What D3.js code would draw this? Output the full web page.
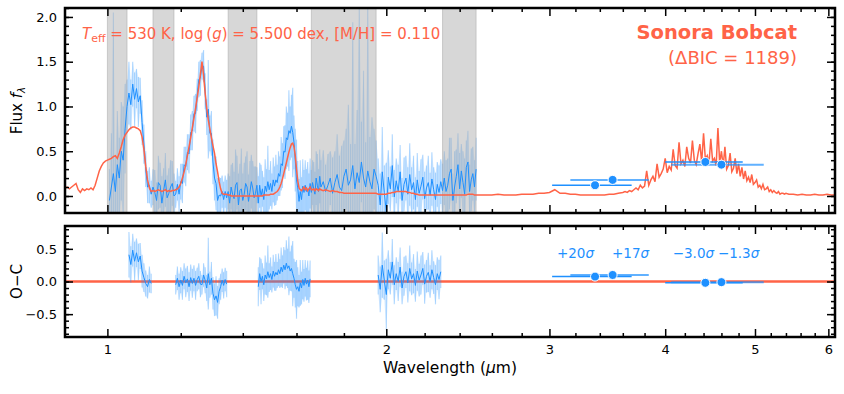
<!DOCTYPE html>
<html>
<head>
<meta charset="utf-8">
<script src="https://cdn.jsdelivr.net/npm/d3@7"></script>
<style>
  body { margin: 0; background: #fff; }
  svg { display: block; font-family: "DejaVu Sans", sans-serif; }
</style>
</head>
<body>
<div id="chart"></div>
<script>
// ---- fit parameters ----
const modelName = "Sonora Bobcat";
const deltaBIC = 1189;
const teff = 530, logg = "5.500", metal = "0.110";

// ---- masked (telluric) windows, microns ----
const bandStart = [1.00, 1.12, 1.35, 1.66, 2.30];
const bandEnd   = [1.05, 1.18, 1.45, 1.95, 2.50];

// ---- observed spectrum ----
const obsWave = [
  1.005,1.010,1.015,1.020,1.025,1.030,1.035,1.040,1.045,1.050,
  1.055,1.060,1.065,1.070,1.075,1.080,1.085,1.090,1.095,1.100,
  1.105,1.110,1.115,1.120,1.125,1.130,1.135,1.140,1.145,1.150,
  1.155,1.160,1.165,1.170,1.175,1.180,1.185,1.190,1.195,1.200,
  1.205,1.210,1.215,1.220,1.225,1.230,1.235,1.240,1.245,1.250,
  1.255,1.260,1.265,1.270,1.275,1.280,1.285,1.290,1.295,1.300,
  1.305,1.310,1.315,1.320,1.325,1.330,1.335,1.340,1.345,1.350,
  1.355,1.360,1.365,1.370,1.375,1.380,1.385,1.390,1.395,1.400,
  1.405,1.410,1.415,1.420,1.425,1.430,1.435,1.440,1.445,1.450,
  1.455,1.460,1.465,1.470,1.475,1.480,1.485,1.490,1.495,1.500,
  1.505,1.510,1.515,1.520,1.525,1.530,1.535,1.540,1.545,1.550,
  1.555,1.560,1.565,1.570,1.575,1.580,1.585,1.590,1.595,1.600,
  1.605,1.610,1.615,1.620,1.625,1.630,1.635,1.640,1.645,1.650,
  1.655,1.660,1.665,1.670,1.675,1.680,1.685,1.690,1.695,1.700,
  1.71,1.72,1.73,1.74,1.75,1.76,1.77,1.78,1.79,1.80,
  1.81,1.82,1.83,1.84,1.85,1.86,1.87,1.88,1.89,1.90,
  1.91,1.92,1.93,1.94,1.95,1.96,1.97,1.98,1.99,2.00,
  2.01,2.02,2.03,2.04,2.05,2.06,2.07,2.08,2.09,2.10,
  2.11,2.12,2.13,2.14,2.15,2.16,2.17,2.18,2.19,2.20,
  2.21,2.22,2.23,2.24,2.25,2.26,2.27,2.28,2.29,2.30,
  2.31,2.32,2.33,2.34,2.35,2.36,2.37,2.38,2.39,2.40,
  2.41,2.42,2.43,2.44,2.45,2.46,2.47,2.48,2.49,2.50
];
const obsFlux = [
  -0.05,0.10,0.25,0.05,0.35,0.20,0.50,0.40,0.75,1.00,
  1.15,1.02,1.25,1.08,1.20,1.05,1.12,0.82,0.58,0.30,
  0.10,0.12,0.02,0.10,0.04,-0.05,0.15,0.12,-0.08,0.06,
  0.18,-0.02,0.03,0.10,0.14,0.00,0.02,0.13,0.02,0.16,
  0.14,0.35,0.33,0.49,0.47,0.71,0.73,0.92,0.92,1.13,
  1.30,1.32,1.45,1.45,1.17,0.88,0.97,0.70,0.70,0.38,
  0.20,0.14,-0.05,0.01,0.00,0.05,-0.04,0.05,-0.02,0.05,
  -0.08,0.10,0.02,-0.03,0.12,0.15,-0.10,0.06,0.08,-0.05,
  0.02,0.14,0.10,-0.06,0.04,0.16,0.09,-0.02,0.03,0.12,
  -0.08,0.12,0.00,0.08,-0.04,0.11,0.05,0.16,0.07,0.14,
  0.05,0.18,0.11,0.18,0.15,0.25,0.22,0.36,0.34,0.50,
  0.49,0.65,0.63,0.73,0.70,0.78,0.71,0.60,0.40,0.18,
  0.09,-0.06,0.05,-0.04,0.11,0.04,0.12,0.05,0.08,0.00,
  0.14,0.04,0.15,0.08,0.02,0.20,0.12,0.05,0.22,0.10,
  0.16,0.05,0.12,0.20,0.03,0.15,0.24,0.10,0.06,0.22,
  0.30,0.12,0.18,0.34,0.08,0.26,0.15,0.38,0.20,0.10,
  0.28,0.16,0.08,0.30,0.22,0.12,-0.10,0.27,0.04,-0.18,
  0.21,0.08,0.34,-0.01,0.17,0.05,0.27,-0.05,0.13,0.20,
  0.02,0.24,0.07,0.15,-0.04,0.18,0.03,0.11,0.21,-0.03,
  0.09,0.15,0.01,0.19,0.07,-0.04,0.13,0.04,0.16,0.06,
  0.20,0.05,0.12,0.25,0.30,-0.05,0.10,0.22,0.35,0.08,
  0.28,0.15,0.02,0.32,0.38,0.05,0.18,0.25,0.10,0.30
];
const obsErr = [
  0.35,0.60,1.80,0.40,0.60,0.45,0.55,0.60,0.50,0.30,
  0.35,0.28,0.25,0.30,0.22,0.28,0.20,0.25,0.22,0.20,
  0.18,0.20,0.15,0.20,0.25,0.20,0.30,0.25,0.30,0.25,
  0.30,0.25,0.28,0.30,0.25,0.25,0.15,0.18,0.20,0.20,
  0.22,0.20,0.22,0.20,0.22,0.20,0.22,0.20,0.22,0.18,
  0.20,0.20,0.15,0.18,0.20,0.20,0.55,0.20,0.25,0.25,
  0.25,0.30,0.25,0.20,0.20,0.18,0.20,0.18,0.20,0.20,
  0.30,0.25,0.35,0.30,0.40,0.30,0.35,0.30,0.45,0.30,
  0.35,0.30,0.40,0.30,0.35,0.30,0.30,0.35,0.30,0.20,
  0.30,0.25,0.35,0.20,0.25,0.30,0.25,0.40,0.22,0.25,
  0.20,0.25,0.22,0.28,0.20,0.25,0.22,0.30,0.25,0.28,
  0.30,0.35,0.30,0.45,0.30,0.35,0.50,0.30,0.35,0.45,
  0.30,0.25,0.35,0.25,0.30,0.25,0.28,0.25,0.30,0.25,
  0.28,0.25,0.25,0.30,0.25,0.30,0.35,0.25,0.30,0.30,
  0.35,0.30,0.35,0.30,0.40,0.35,0.45,0.35,0.50,0.40,
  0.45,0.90,0.40,1.60,0.50,0.70,2.00,0.45,1.20,0.50,
  1.90,0.50,0.80,0.45,0.40,0.30,0.35,0.50,0.30,0.55,
  0.30,0.25,0.35,0.30,0.25,0.30,0.30,0.25,0.30,0.25,
  0.30,0.35,0.25,0.30,0.25,0.30,0.25,0.30,0.25,0.30,
  0.25,0.30,0.25,0.30,0.25,0.30,0.25,0.30,0.25,0.30,
  0.30,0.35,0.30,0.40,0.35,0.30,0.40,0.30,0.35,0.40,
  0.30,0.35,0.40,0.30,0.35,0.30,0.35,0.30,0.30,0.35
];

// ---- best-fit model, on the observed grid ----
const modelAtObs = [
  0.41,0.42,0.44,0.45,0.42,0.48,0.55,0.63,0.68,0.71,
  0.74,0.76,0.77,0.77,0.76,0.75,0.73,0.66,0.52,0.33,
  0.18,0.09,0.05,0.06,0.05,0.06,0.07,0.06,0.05,0.06,
  0.07,0.05,0.06,0.05,0.06,0.06,0.07,0.08,0.10,0.14,
  0.20,0.27,0.35,0.45,0.55,0.65,0.76,0.87,0.98,1.10,
  1.22,1.36,1.50,1.35,1.15,0.98,0.85,0.75,0.65,0.56,
  0.48,0.36,0.27,0.16,0.08,0.03,0.02,0.02,0.02,0.01,
  0.01,0.00,0.00,0.00,0.00,0.00,0.00,0.00,0.00,0.00,
  0.00,0.00,0.00,0.00,0.00,0.00,0.00,0.00,0.00,0.00,
  0.00,0.00,0.00,0.00,0.01,0.01,0.01,0.01,0.01,0.02,
  0.02,0.02,0.03,0.04,0.05,0.07,0.10,0.14,0.19,0.25,
  0.31,0.37,0.43,0.49,0.54,0.58,0.59,0.55,0.45,0.30,
  0.17,0.09,0.07,0.06,0.08,0.10,0.07,0.09,0.06,0.08,
  0.10,0.07,0.07,0.08,0.06,0.08,0.07,0.06,0.08,0.07,
  0.06,0.07,0.06,0.05,0.06,0.05,0.05,0.04,0.04,0.03,
  0.03,0.03,0.03,0.03,0.03,0.03,0.03,0.03,0.03,0.03,
  0.03,0.03,0.03,0.03,0.03,0.02,0.02,0.02,0.02,0.02,
  0.03,0.03,0.04,0.04,0.05,0.05,0.05,0.05,0.05,0.05,
  0.04,0.04,0.03,0.03,0.02,0.02,0.01,0.01,0.01,0.01,
  0.01,0.01,0.01,0.01,0.01,0.01,0.01,0.01,0.01,0.01,
  0.01,0.01,0.01,0.01,0.01,0.01,0.01,0.01,0.01,0.01,
  0.01,0.01,0.01,0.01,0.02,0.02,0.02,0.02,0.01,0.01
];

// model outside the observed range
const modelBlueWave = [0.900,0.905,0.910,0.915,0.920,0.925,0.930,0.935,0.940,0.945,
  0.950,0.955,0.960,0.965,0.970,0.975,0.980,0.985,0.990,0.995,1.000];
const modelBlueFlux = [0.09,0.10,0.08,0.10,0.12,0.14,0.07,0.04,0.08,0.06,
  0.08,0.07,0.09,0.07,0.12,0.20,0.28,0.33,0.37,0.39,0.40];

const modelRedWave = [
  2.52,2.56,2.60,2.64,2.68,2.72,2.76,2.80,2.84,2.88,
  2.92,2.96,3.00,3.04,3.08,3.12,3.16,3.20,3.24,3.28,
  3.32,3.36,3.40,3.44,3.48,3.52,3.56,3.60,3.62,3.64,
  3.66,3.68,3.70,3.72,3.74,3.76,3.78,3.80,3.82,3.84,
  3.86,3.88,3.90,3.92,3.94,3.96,3.98,4.00,4.02,4.04,
  4.06,4.08,4.10,4.12,4.14,4.16,4.18,4.20,4.22,4.24,
  4.26,4.28,4.30,4.32,4.34,4.36,4.38,4.40,4.42,4.44,
  4.46,4.48,4.50,4.52,4.54,4.56,4.58,4.60,4.62,4.64,
  4.66,4.68,4.70,4.72,4.74,4.76,4.78,4.80,4.82,4.84,
  4.86,4.88,4.90,4.92,4.94,4.96,4.98,5.00,5.02,5.04,
  5.06,5.08,5.10,5.12,5.14,5.16,5.18,5.20,5.22,5.24,
  5.26,5.28,5.30,5.32,5.34,5.36,5.38,5.40,5.44,5.50,
  5.56,5.62,5.68,5.74,5.80,5.86,5.92,5.98,6.04,6.10
];
const modelRedFlux = [
  0.01,0.01,0.01,0.02,0.01,0.01,0.01,0.02,0.02,0.02,
  0.03,0.03,0.04,0.07,0.03,0.03,0.02,0.02,0.01,0.01,
  0.01,0.01,0.01,0.01,0.02,0.02,0.03,0.04,0.05,0.04,
  0.06,0.05,0.07,0.09,0.07,0.12,0.09,0.11,0.28,0.12,
  0.18,0.22,0.16,0.36,0.21,0.25,0.30,0.42,0.26,0.33,
  0.29,0.52,0.34,0.31,0.60,0.36,0.40,0.33,0.55,0.42,
  0.37,0.62,0.40,0.35,0.47,0.58,0.38,0.70,0.41,0.45,
  0.36,0.64,0.39,0.42,0.34,0.76,0.37,0.50,0.33,0.55,
  0.30,0.34,0.48,0.27,0.31,0.42,0.25,0.36,0.22,0.32,
  0.19,0.28,0.17,0.21,0.15,0.24,0.13,0.15,0.18,0.10,
  0.12,0.08,0.13,0.07,0.08,0.10,0.05,0.07,0.04,0.06,
  0.04,0.03,0.05,0.02,0.03,0.03,0.02,0.03,0.02,0.02,
  0.01,0.02,0.01,0.01,0.02,0.01,0.01,0.02,0.01,0.01
];

// ---- photometry ----
const photWave  = [3.36, 3.51, 4.42, 4.60];
const photLo    = [3.02, 3.16, 4.00, 4.06];
const photHi    = [3.68, 3.84, 4.85, 5.11];
const photFlux  = [0.12, 0.18, 0.38, 0.35];
const photModel = [0.045, 0.08, 0.40, 0.36];
const photSigma = ["+20", "+17", "\u22123.0", "\u22121.3"];
const sigmaLabelWave = [3.20, 3.67, 4.29, 4.80];

// ---- ticks ----
const xMajor = [1, 2, 3, 4, 5, 6];
const xMinor = [1.2, 1.4, 1.6, 1.8, 2.2, 2.4, 2.6, 2.8, 3.2, 3.4, 3.6, 3.8,
  4.2, 4.4, 4.6, 4.8, 5.2, 5.4, 5.6, 5.8];
const yTopMajor = [0, 0.5, 1.0, 1.5, 2.0];
const yTopMinor = d3.range(-1, 22).map(d => d / 10);
const yBotMajor = [-0.5, 0, 0.5];
const yBotMinor = d3.range(-8, 9).map(d => d / 10);

const width = 844, height = 394;
const left = 65, right = 835;
const topP = {y0: 8, y1: 213};
const botP = {y0: 226, y1: 337};
const red = "#ff6347", blue = "#1e90ff";

const svg = d3.select("#chart").append("svg")
  .attr("width", width)
  .attr("height", height);

const x = d3.scaleLog().domain([0.9, 6.1]).range([left, right]);
const yTop = d3.scaleLinear().domain([-0.19, 2.1]).range([topP.y1, topP.y0]);
const yBot = d3.scaleLinear().domain([-0.85, 0.85]).range([botP.y1, botP.y0]);

const obs = obsWave.map((w, i) => ({
  w, f: obsFlux[i], e: obsErr[i], m: modelAtObs[i], r: obsFlux[i] - modelAtObs[i]
}));
const model = modelBlueWave.map((w, i) => ({w, f: modelBlueFlux[i]}))
  .concat(obs.map(d => ({w: d.w, f: d.m})))
  .concat(modelRedWave.map((w, i) => ({w, f: modelRedFlux[i]})));
const phot = photWave.map((w, i) => ({
  w, lo: photLo[i], hi: photHi[i], f: photFlux[i], r: photFlux[i] - photModel[i],
  s: photSigma[i], lw: sigmaLabelWave[i], alt: i % 2 === 1
}));

const inBand = w => bandStart.some((s, i) => w >= s && w <= bandEnd[i]);

const defs = svg.append("defs");
defs.append("clipPath").attr("id", "clipTop").append("rect")
  .attr("x", left).attr("y", topP.y0).attr("width", right - left).attr("height", topP.y1 - topP.y0);
defs.append("clipPath").attr("id", "clipBot").append("rect")
  .attr("x", left).attr("y", botP.y0).attr("width", right - left).attr("height", botP.y1 - botP.y0);

// ================= top panel =================
const gTop = svg.append("g").attr("clip-path", "url(#clipTop)");

gTop.append("path")
  .datum(obs)
  .attr("fill", blue)
  .attr("fill-opacity", 0.15)
  .attr("d", d3.area().x(d => x(d.w)).y0(d => yTop(d.f - d.e)).y1(d => yTop(d.f + d.e)));

gTop.append("g")
  .selectAll("line")
  .data(obs)
  .join("line")
  .attr("x1", d => x(d.w)).attr("x2", d => x(d.w))
  .attr("y1", d => yTop(d.f - d.e)).attr("y2", d => yTop(d.f + d.e))
  .attr("stroke", blue)
  .attr("stroke-opacity", 0.3)
  .attr("stroke-width", 1.2);

gTop.append("g")
  .selectAll("rect")
  .data(bandStart.map((s, i) => [s, bandEnd[i]]))
  .join("rect")
  .attr("x", d => x(d[0]))
  .attr("width", d => x(d[1]) - x(d[0]))
  .attr("y", topP.y0)
  .attr("height", topP.y1 - topP.y0)
  .attr("fill", "#b0b0b0")
  .attr("fill-opacity", 0.5)
  .attr("stroke", "#a8a8a8")
  .attr("stroke-opacity", 0.5);

gTop.append("path")
  .datum(obs)
  .attr("fill", "none")
  .attr("stroke", blue)
  .attr("stroke-width", 1)
  .attr("d", d3.line().x(d => x(d.w)).y(d => yTop(d.f)));

gTop.append("path")
  .datum(model)
  .attr("fill", "none")
  .attr("stroke", red)
  .attr("stroke-width", 1.5)
  .attr("d", d3.line().x(d => x(d.w)).y(d => yTop(d.f)));

function drawPhot(g, yScale, key) {
  g.append("g")
    .selectAll("line")
    .data(phot)
    .join("line")
    .attr("x1", d => x(d.lo)).attr("x2", d => x(d.hi))
    .attr("y1", d => yScale(d[key])).attr("y2", d => yScale(d[key]))
    .attr("stroke", blue)
    .attr("stroke-opacity", d => d.alt ? 0.7 : 1)
    .attr("stroke-width", d => d.alt ? 2 : 1.5);
  g.append("g")
    .selectAll("circle")
    .data(phot)
    .join("circle")
    .attr("cx", d => x(d.w))
    .attr("cy", d => yScale(d[key]))
    .attr("r", 4.5)
    .attr("fill", blue)
    .attr("stroke", "#fff")
    .attr("stroke-width", 1);
}
drawPhot(gTop, yTop, "f");

// ================= bottom panel =================
const gBot = svg.append("g").attr("clip-path", "url(#clipBot)");
const resid = obs.filter(d => !inBand(d.w));

gBot.append("path")
  .datum(x.domain())
  .attr("stroke", red)
  .attr("stroke-width", 2.5)
  .attr("d", d3.line().x(d => x(d)).y(() => yBot(0)));

gBot.append("path")
  .datum(obs)
  .attr("fill", blue)
  .attr("fill-opacity", 0.15)
  .attr("d", d3.area().defined(d => !inBand(d.w))
    .x(d => x(d.w)).y0(d => yBot(d.r - d.e)).y1(d => yBot(d.r + d.e)));

gBot.append("g")
  .selectAll("line")
  .data(resid)
  .join("line")
  .attr("x1", d => x(d.w)).attr("x2", d => x(d.w))
  .attr("y1", d => yBot(d.r - d.e)).attr("y2", d => yBot(d.r + d.e))
  .attr("stroke", blue)
  .attr("stroke-opacity", 0.3)
  .attr("stroke-width", 1.2);

gBot.append("path")
  .datum(obs)
  .attr("fill", "none")
  .attr("stroke", blue)
  .attr("stroke-width", 1)
  .attr("d", d3.line().defined(d => !inBand(d.w)).x(d => x(d.w)).y(d => yBot(d.r)));

drawPhot(gBot, yBot, "r");

const sig = svg.append("g")
  .selectAll("text")
  .data(phot)
  .join("text")
  .attr("x", d => x(d.lw))
  .attr("y", yBot(0.36))
  .attr("text-anchor", "middle")
  .attr("fill", blue)
  .attr("font-size", 13.5);
sig.append("tspan").text(d => d.s);
sig.append("tspan").attr("font-style", "italic").text("\u03c3");

// ================= axes =================
function axes(yScale, panel, yMajor, yMinor, labels) {
  const g = svg.append("g");
  const strip = s => s.call(a => a.select(".domain").remove());

  g.append("g").attr("transform", `translate(0,${panel.y1})`)
    .call(d3.axisBottom(x).tickValues(xMajor).tickSize(-8).tickPadding(8)
      .tickFormat(labels ? d3.format("d") : ""))
    .call(strip);
  g.append("g").attr("transform", `translate(0,${panel.y1})`)
    .call(d3.axisBottom(x).tickValues(xMinor).tickSize(-4).tickFormat("")).call(strip);
  g.append("g").attr("transform", `translate(0,${panel.y0})`)
    .call(d3.axisTop(x).tickValues(xMajor).tickSize(-8).tickFormat("")).call(strip);
  g.append("g").attr("transform", `translate(0,${panel.y0})`)
    .call(d3.axisTop(x).tickValues(xMinor).tickSize(-4).tickFormat("")).call(strip);

  g.append("g").attr("transform", `translate(${left},0)`)
    .call(d3.axisLeft(yScale).tickValues(yMajor).tickSize(-8).tickPadding(8)
      .tickFormat(d3.format(".1f")))
    .call(strip);
  g.append("g").attr("transform", `translate(${left},0)`)
    .call(d3.axisLeft(yScale).tickValues(yMinor).tickSize(-4).tickFormat("")).call(strip);
  g.append("g").attr("transform", `translate(${right},0)`)
    .call(d3.axisRight(yScale).tickValues(yMajor).tickSize(-8).tickFormat("")).call(strip);
  g.append("g").attr("transform", `translate(${right},0)`)
    .call(d3.axisRight(yScale).tickValues(yMinor).tickSize(-4).tickFormat("")).call(strip);

  g.selectAll(".tick line").attr("stroke", "#000").attr("stroke-width", 1.5);
  g.selectAll(".tick text").attr("font-size", 13).attr("font-family", "DejaVu Sans").attr("fill", "#000");

  svg.append("rect")
    .attr("x", left).attr("y", panel.y0)
    .attr("width", right - left).attr("height", panel.y1 - panel.y0)
    .attr("fill", "none").attr("stroke", "#000").attr("stroke-width", 2.5);
}
axes(yTop, topP, yTopMajor, yTopMinor, false);
axes(yBot, botP, yBotMajor, yBotMinor, true);

// ================= labels =================
const yl = svg.append("text")
  .attr("transform", `translate(22,${(topP.y0 + topP.y1) / 2}) rotate(-90)`)
  .attr("text-anchor", "middle")
  .attr("font-size", 15);
yl.append("tspan").text("Flux ");
yl.append("tspan").attr("font-style", "italic").text("f");
yl.append("tspan").attr("font-style", "italic").attr("font-size", 10.5).attr("dy", 3).text("\u03bb");

svg.append("text")
  .attr("transform", `translate(22,${(botP.y0 + botP.y1) / 2}) rotate(-90)`)
  .attr("text-anchor", "middle")
  .attr("font-size", 15)
  .text("O\u2212C");

const xl = svg.append("text")
  .attr("x", (left + right) / 2)
  .attr("y", 373)
  .attr("text-anchor", "middle")
  .attr("font-size", 15.5);
xl.append("tspan").text("Wavelength (");
xl.append("tspan").attr("font-style", "italic").text("\u03bc");
xl.append("tspan").text("m)");

const tt = svg.append("text")
  .attr("x", 82).attr("y", 39)
  .attr("fill", red)
  .attr("font-size", 15);
tt.append("tspan").attr("font-style", "italic").text("T");
tt.append("tspan").attr("font-size", 11).attr("dy", 3).text("eff");
tt.append("tspan").attr("dy", -3).text(` = ${teff} K, log\u2009(`);
tt.append("tspan").attr("font-style", "italic").text("g");
tt.append("tspan").text(`) = ${logg} dex, [M/H] = ${metal}`);

svg.append("text")
  .attr("x", 797).attr("y", 39)
  .attr("text-anchor", "end")
  .attr("fill", red)
  .attr("font-size", 19.5)
  .attr("font-weight", "bold")
  .text(modelName);

svg.append("text")
  .attr("x", 797).attr("y", 64)
  .attr("text-anchor", "end")
  .attr("fill", red)
  .attr("font-size", 18)
  .text(`(\u0394BIC = ${deltaBIC})`);
</script>
</body>
</html>
